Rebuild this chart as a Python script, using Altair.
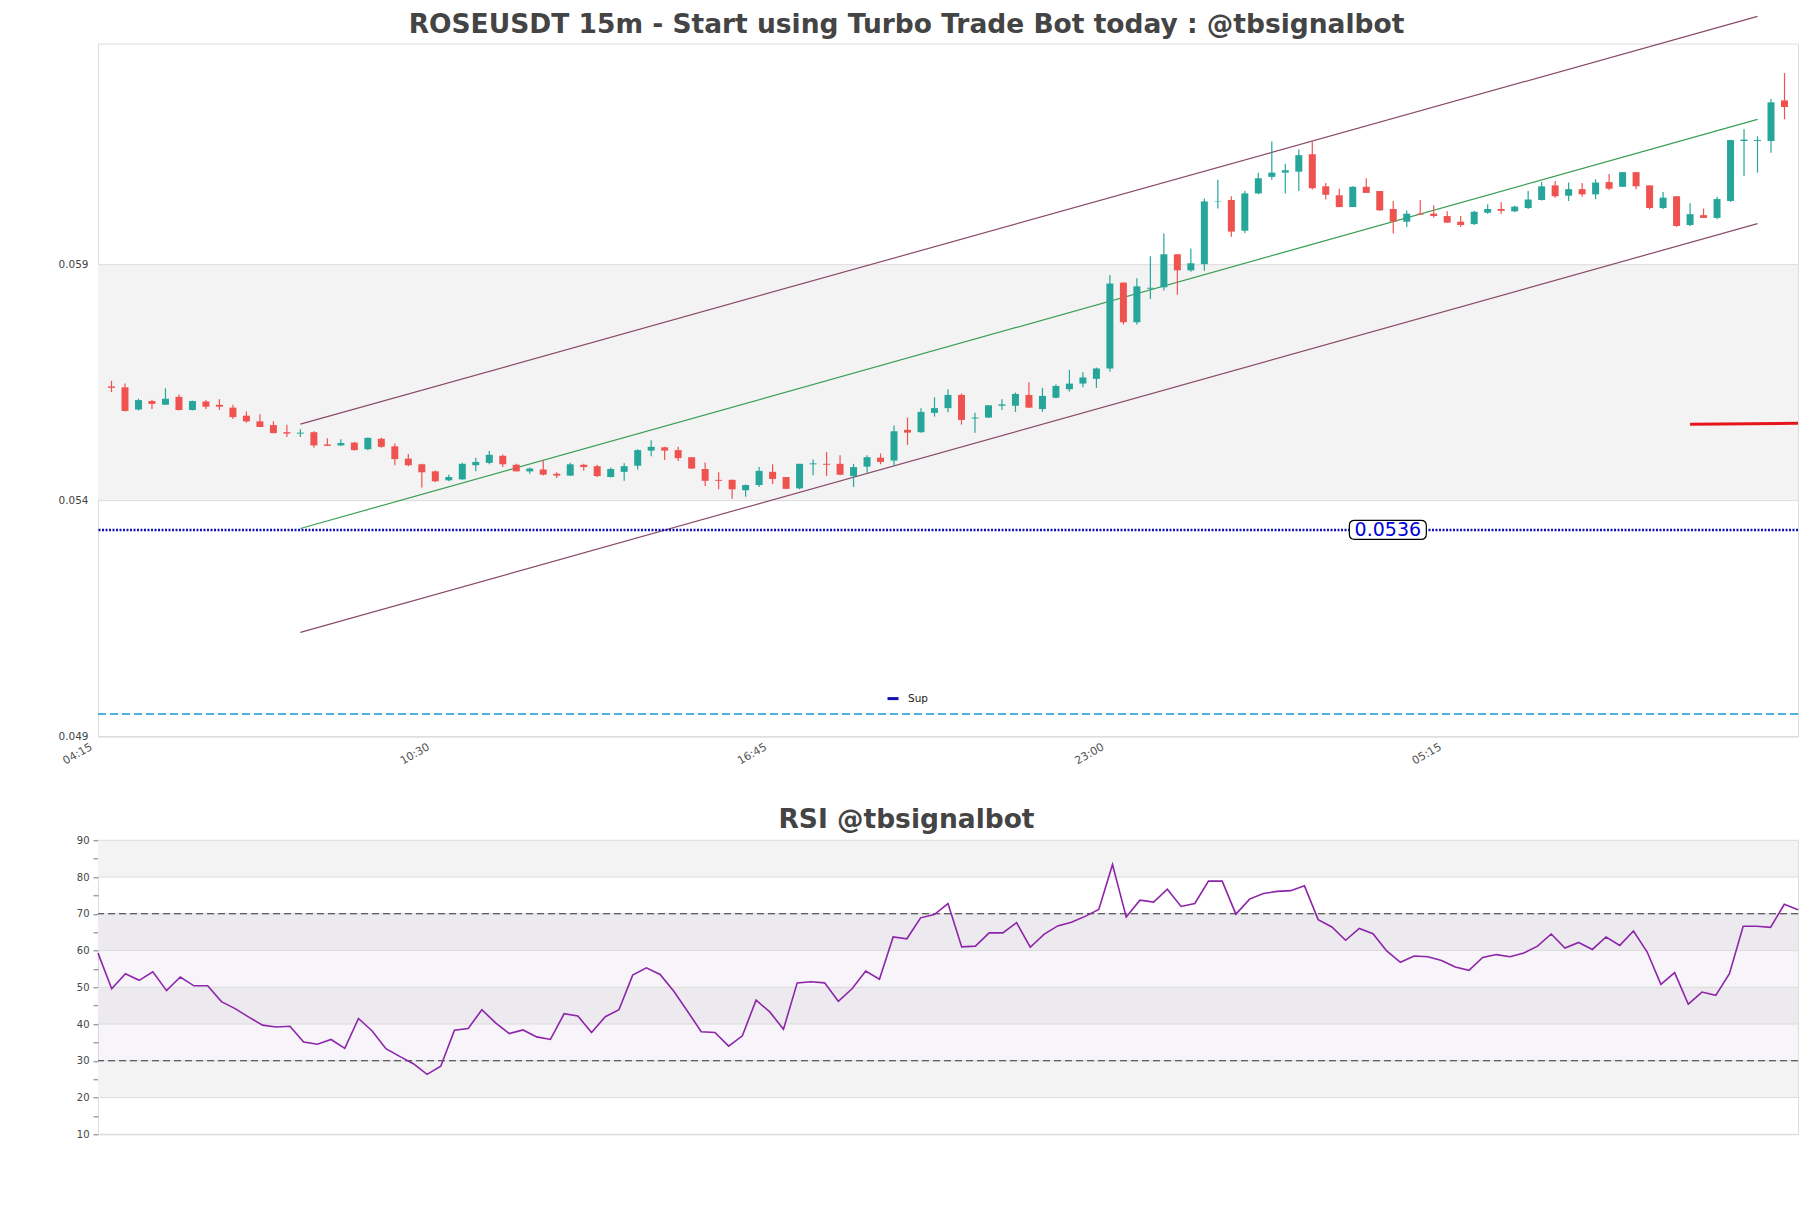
import altair as alt
import pandas as pd

FONT = "DejaVu Sans"

# ---------------- data ----------------
tick_index = [-1, 24, 49, 74, 99]
tick_labels = ["04:15", "10:30", "16:45", "23:00", "05:15"]

opens = [0.05642, 0.05640, 0.05593, 0.05611, 0.05603, 0.05620, 0.05592, 0.05610, 0.05603, 0.05597,
         0.05580, 0.05568, 0.05560, 0.05545, 0.05542, 0.05545, 0.05519, 0.05517, 0.05523, 0.05509,
         0.05531, 0.05515, 0.05489, 0.05477, 0.05462, 0.05443, 0.05445, 0.05475, 0.05480, 0.05495,
         0.05476, 0.05462, 0.05466, 0.05457, 0.05453, 0.05476, 0.05473, 0.05450, 0.05461, 0.05474,
         0.05506, 0.05513, 0.05507, 0.05492, 0.05467, 0.05444, 0.05444, 0.05422, 0.05433, 0.05461,
         0.05450, 0.05426, 0.05477, 0.05478, 0.05478, 0.05452, 0.05472, 0.05491, 0.05485, 0.05550,
         0.05545, 0.05586, 0.05596, 0.05624, 0.05574, 0.05576, 0.05601, 0.05601, 0.05624, 0.05594,
         0.05618, 0.05636, 0.05648, 0.05658, 0.05680, 0.05862, 0.05778, 0.05849, 0.05852, 0.05922,
         0.05888, 0.05901, 0.06033, 0.06037, 0.05972, 0.06051, 0.06086, 0.06095, 0.06097, 0.06134,
         0.06066, 0.06047, 0.06022, 0.06065, 0.06056, 0.06018, 0.05991, 0.06008, 0.06008, 0.06003,
         0.05991, 0.05986, 0.06010, 0.06018, 0.06013, 0.06020, 0.06037, 0.06068, 0.06046, 0.06060,
         0.06049, 0.06075, 0.06065, 0.06096, 0.06068, 0.06020, 0.06045, 0.05984, 0.06005, 0.05999,
         0.06035, 0.06162, 0.06162, 0.06162, 0.06248]
highs = [0.05654, 0.05648, 0.05616, 0.05614, 0.05638, 0.05625, 0.05612, 0.05613, 0.05615, 0.05603,
         0.05589, 0.05583, 0.05568, 0.05561, 0.05551, 0.05547, 0.05532, 0.05530, 0.05524, 0.05534,
         0.05533, 0.05521, 0.05499, 0.05478, 0.05464, 0.05455, 0.05480, 0.05491, 0.05505, 0.05498,
         0.05478, 0.05470, 0.05486, 0.05460, 0.05480, 0.05478, 0.05476, 0.05470, 0.05479, 0.05509,
         0.05528, 0.05514, 0.05514, 0.05492, 0.05481, 0.05460, 0.05445, 0.05434, 0.05471, 0.05477,
         0.05450, 0.05478, 0.05487, 0.05503, 0.05496, 0.05478, 0.05496, 0.05500, 0.05559, 0.05576,
         0.05596, 0.05619, 0.05636, 0.05627, 0.05586, 0.05602, 0.05615, 0.05629, 0.05651, 0.05639,
         0.05646, 0.05677, 0.05672, 0.05682, 0.05878, 0.05862, 0.05871, 0.05918, 0.05966, 0.05922,
         0.05934, 0.06040, 0.06080, 0.06045, 0.06056, 0.06095, 0.06161, 0.06114, 0.06144, 0.06161,
         0.06073, 0.06061, 0.06066, 0.06083, 0.06056, 0.06035, 0.06015, 0.06037, 0.06026, 0.06013,
         0.06003, 0.06014, 0.06028, 0.06032, 0.06025, 0.06056, 0.06075, 0.06077, 0.06074, 0.06073,
         0.06081, 0.06092, 0.06096, 0.06096, 0.06068, 0.06054, 0.06045, 0.06030, 0.06019, 0.06044,
         0.06165, 0.06187, 0.06172, 0.06251, 0.06306]
lows = [0.05630, 0.05589, 0.05591, 0.05594, 0.05603, 0.05591, 0.05591, 0.05594, 0.05592, 0.05573,
        0.05565, 0.05556, 0.05543, 0.05535, 0.05535, 0.05512, 0.05516, 0.05516, 0.05506, 0.05507,
        0.05512, 0.05475, 0.05473, 0.05428, 0.05439, 0.05441, 0.05444, 0.05462, 0.05477, 0.05471,
        0.05462, 0.05457, 0.05453, 0.05448, 0.05452, 0.05464, 0.05450, 0.05449, 0.05442, 0.05466,
        0.05494, 0.05486, 0.05484, 0.05467, 0.05431, 0.05424, 0.05404, 0.05408, 0.05429, 0.05435,
        0.05424, 0.05424, 0.05454, 0.05452, 0.05454, 0.05429, 0.05459, 0.05477, 0.05473, 0.05518,
        0.05544, 0.05578, 0.05587, 0.05561, 0.05544, 0.05575, 0.05592, 0.05588, 0.05597, 0.05588,
        0.05617, 0.05631, 0.05640, 0.05639, 0.05673, 0.05773, 0.05773, 0.05827, 0.05845, 0.05836,
        0.05885, 0.05887, 0.06019, 0.05959, 0.05967, 0.06049, 0.06080, 0.06051, 0.06056, 0.06059,
        0.06038, 0.06022, 0.06022, 0.06052, 0.06014, 0.05966, 0.05980, 0.06006, 0.06000, 0.05989,
        0.05980, 0.05984, 0.06008, 0.06008, 0.06011, 0.06018, 0.06036, 0.06042, 0.06035, 0.06044,
        0.06039, 0.06058, 0.06065, 0.06060, 0.06017, 0.06018, 0.05980, 0.05982, 0.05999, 0.05996,
        0.06033, 0.06088, 0.06095, 0.06137, 0.06208]
closes = [0.05639, 0.05590, 0.05613, 0.05605, 0.05616, 0.05592, 0.05611, 0.05599, 0.05599, 0.05577,
          0.05568, 0.05556, 0.05543, 0.05542, 0.05544, 0.05517, 0.05516, 0.05522, 0.05507, 0.05533,
          0.05514, 0.05488, 0.05475, 0.05460, 0.05441, 0.05450, 0.05478, 0.05482, 0.05497, 0.05477,
          0.05462, 0.05468, 0.05455, 0.05453, 0.05477, 0.05471, 0.05452, 0.05467, 0.05473, 0.05507,
          0.05514, 0.05506, 0.05490, 0.05468, 0.05442, 0.05442, 0.05424, 0.05433, 0.05463, 0.05446,
          0.05425, 0.05478, 0.05479, 0.05476, 0.05455, 0.05471, 0.05492, 0.05482, 0.05547, 0.05544,
          0.05588, 0.05596, 0.05624, 0.05571, 0.05576, 0.05602, 0.05604, 0.05626, 0.05597, 0.05622,
          0.05643, 0.05648, 0.05661, 0.05680, 0.05860, 0.05778, 0.05854, 0.05851, 0.05922, 0.05888,
          0.05903, 0.06034, 0.06034, 0.05970, 0.06051, 0.06083, 0.06095, 0.06100, 0.06132, 0.06062,
          0.06048, 0.06022, 0.06065, 0.06052, 0.06015, 0.05991, 0.06008, 0.06006, 0.06003, 0.05989,
          0.05984, 0.06012, 0.06018, 0.06014, 0.06023, 0.06038, 0.06066, 0.06045, 0.06060, 0.06049,
          0.06074, 0.06061, 0.06096, 0.06066, 0.06020, 0.06042, 0.05982, 0.06007, 0.05999, 0.06039,
          0.06164, 0.06165, 0.06164, 0.06244, 0.06234]

rsi_values = [59.3, 49.6, 53.7, 51.9, 54.2, 49.1, 52.8, 50.4, 50.4, 46.1,
              44.2, 41.9, 39.7, 39.2, 39.4, 35.1, 34.5, 35.8, 33.4, 41.5,
              38.1, 33.3, 31.2, 29.2, 26.3, 28.5, 38.3, 38.8, 43.9, 40.3,
              37.4, 38.4, 36.5, 35.8, 42.8, 42.2, 37.7, 42.0, 43.9, 53.3,
              55.3, 53.5, 48.9, 43.5, 37.9, 37.7, 34.0, 36.8, 46.5, 43.3,
              38.6, 51.2, 51.5, 51.2, 46.2, 49.6, 54.4, 52.2, 63.7, 63.2,
              68.9, 69.8, 72.8, 61.0, 61.2, 64.8, 64.8, 67.6, 60.9, 64.4,
              66.7, 67.7, 69.3, 71.2, 83.4, 69.1, 73.7, 73.2, 76.7, 72.0,
              72.8, 78.9, 78.9, 69.9, 74.0, 75.5, 76.1, 76.3, 77.6, 68.4,
              66.4, 62.8, 66.0, 64.6, 59.9, 56.8, 58.5, 58.3, 57.3, 55.5,
              54.6, 58.1, 58.9, 58.3, 59.3, 61.2, 64.5, 60.7, 62.2, 60.3,
              63.7, 61.4, 65.3, 59.6, 50.8, 54.0, 45.4, 48.7, 47.8, 53.7,
              66.6, 66.6, 66.3, 72.6, 71.1]

price_ticks = [0.049, 0.054, 0.059]
price_band = [0.054, 0.059]
price_top = 0.063684

channel_x = [14, 122]
channel_upper = [0.05562, 0.06426]
channel_mid = [0.05341, 0.06208]
channel_lower = [0.05121, 0.05987]

support_level = 0.05338
support_name = "Sup"
support_text = "0.0536"
support_text_index = 94.6

floor_level = 0.04948

red_x = [117, 125.0]
red_y = [0.05562, 0.05564]

rsi_ticks = [10, 15, 20, 25, 30, 35, 40, 45, 50, 55, 60, 65, 70, 75, 80, 85, 90]
rsi_grid = [10, 20, 30, 40, 50, 60, 70, 80, 90]
rsi_band_lo = [20, 40, 60, 80]
rsi_band_hi = [30, 50, 70, 90]
rsi_zone = [30, 70]
rsi_levels = [30, 70]

# ---------------- frames ----------------
n = len(opens)
candles = pd.DataFrame({
    "idx": list(range(n)),
    "open": opens,
    "high": [max(h, o, c) for h, o, c in zip(highs, opens, closes)],
    "low": [min(l, o, c) for l, o, c in zip(lows, opens, closes)],
    "close": closes,
})
rsi_df = pd.DataFrame({"k": list(range(len(rsi_values))), "rsi": rsi_values})

band_df = pd.DataFrame({"lo": [price_band[0]], "hi": [price_band[1]]})
grid_df = pd.DataFrame({"v": price_ticks})
edge_df = pd.DataFrame({
    "x": channel_x + channel_x,
    "y": channel_upper + channel_lower,
    "side": ["upper", "upper", "lower", "lower"],
})
mid_df = pd.DataFrame({"x": channel_x, "y": channel_mid})
sup_df = pd.DataFrame({"y": [support_level], "name": [support_name]})
floor_df = pd.DataFrame({"y": [floor_level]})
red_df = pd.DataFrame({"x": red_x, "y": red_y})
label_df = pd.DataFrame({"x": [support_text_index], "y": [support_level], "t": [support_text]})

rsi_band_df = pd.DataFrame({"lo": rsi_band_lo, "hi": rsi_band_hi})
rsi_zone_df = pd.DataFrame({"lo": [rsi_zone[0]], "hi": [rsi_zone[1]]})
rsi_grid_df = pd.DataFrame({"v": rsi_grid})
rsi_lvl_df = pd.DataFrame({"v": rsi_levels})

# ---------------- scales / axes ----------------
UP = "#26a69a"
DOWN = "#ef5350"
x_top = alt.Scale(domain=[tick_index[0], n], nice=False, zero=False, padding=0)
y_top = alt.Scale(domain=[price_ticks[0], price_top], nice=False, zero=False, padding=0)

label_expr = " : ".join(f"datum.value == {i} ? '{l}'" for i, l in zip(tick_index, tick_labels)) + " : ''"

x_axis = alt.Axis(values=tick_index, labelExpr=label_expr, labelAngle=-30, labelFontSize=11,
                  labelColor="#555555", labelFont=FONT, ticks=False, domain=False, grid=False,
                  title=None, labelPadding=4, labelOffset=-10)
y_axis = alt.Axis(values=price_ticks, format=".3f", labelFontSize=10.5, labelColor="#444444",
                  labelFont=FONT, ticks=False, domain=False, grid=False, title=None,
                  labelPadding=10, minExtent=89, maxExtent=89)


def X(field):
    return alt.X(field, scale=x_top, axis=x_axis)


def Y(field):
    return alt.Y(field, scale=y_top, axis=y_axis)


cond = alt.condition("datum.close >= datum.open", alt.value(UP), alt.value(DOWN))

band = alt.Chart(band_df).mark_rect(color="#f3f3f3").encode(y=Y("lo:Q"), y2="hi:Q")
grid = alt.Chart(grid_df).mark_rule(color="#dcdcdc", strokeWidth=1).encode(y=Y("v:Q"))
edges = alt.Chart(edge_df).mark_line(color="#8b4a6b", strokeWidth=1.2).encode(
    x=X("x:Q"), y=Y("y:Q"), detail="side:N")
mid = alt.Chart(mid_df).mark_line(color="#3a9f55", strokeWidth=1.2).encode(x=X("x:Q"), y=Y("y:Q"))
sup = alt.Chart(sup_df).mark_rule(strokeWidth=2.5, strokeDash=[2, 1.5]).encode(
    y=Y("y:Q"),
    color=alt.Color("name:N", scale=alt.Scale(domain=[support_name], range=["#1010b4"]),
                    legend=alt.Legend(orient="none", legendX=788, legendY=648, title=None,
                                      symbolType="stroke", symbolSize=121, symbolStrokeWidth=3,
                                      labelFont=FONT, labelFontSize=10.5, labelColor="#222222",
                                      labelOffset=8)))
floor = alt.Chart(floor_df).mark_rule(color="#1a96d8", strokeWidth=1.5, strokeDash=[8, 4]).encode(
    y=Y("y:Q"))
wicks = alt.Chart(candles).mark_rule(strokeWidth=1.2).encode(
    x=X("idx:Q"), y=Y("low:Q"), y2="high:Q", color=cond)
bodies = alt.Chart(candles).mark_bar(size=7).encode(
    x=X("idx:Q"), y=Y("open:Q"), y2="close:Q", color=cond)
red = alt.Chart(red_df).mark_line(color="#e8141c", strokeWidth=3, strokeJoin="round",
                                  strokeCap="butt").encode(x=X("x:Q"), y=Y("y:Q"))

box_path = ("M -0.86 -0.245 L 0.86 -0.245 Q 1 -0.245 1 -0.105 L 1 0.105 Q 1 0.245 0.86 0.245 "
            "L -0.86 0.245 Q -1 0.245 -1 0.105 L -1 -0.105 Q -1 -0.245 -0.86 -0.245 Z")
box = alt.Chart(label_df).mark_point(shape=box_path, size=5929, filled=True, fill="white",
                                     stroke="black", strokeWidth=1.2, opacity=1).encode(
    x=X("x:Q"), y=Y("y:Q"))
txt = alt.Chart(label_df).mark_text(font=FONT, fontSize=19, color="#0000dd",
                                    align="center", baseline="middle").encode(
    x=X("x:Q"), y=Y("y:Q"), text="t:N")

top = alt.layer(band, grid, edges, mid, sup, floor, wicks, bodies, red, box, txt).properties(
    width=1700, height=693,
    title=alt.Title("ROSEUSDT 15m - Start using Turbo Trade Bot today : @tbsignalbot",
                    font=FONT, fontSize=26.5, fontWeight="bold", color="#444444",
                    offset=-24.3, dx=-41.5))

# ---------------- RSI ----------------
x_rsi = alt.Scale(domain=[0, len(rsi_values) - 1], nice=False, zero=False, padding=0)
y_rsi = alt.Scale(domain=[rsi_grid[0], rsi_grid[-1]], nice=False, zero=False, padding=0)

rsi_axis = alt.Axis(values=rsi_ticks, labelExpr="datum.value % 10 == 0 ? datum.label : ''",
                    labelFontSize=10, labelColor="#444444", labelFont=FONT, ticks=True,
                    tickSize=5, tickColor="#777777", domain=False, grid=False, title=None,
                    labelPadding=4, minExtent=89, maxExtent=89)


def RY(field):
    return alt.Y(field, scale=y_rsi, axis=rsi_axis)


r_band = alt.Chart(rsi_band_df).mark_rect(color="#f3f3f3").encode(y=RY("lo:Q"), y2="hi:Q")
r_zone = alt.Chart(rsi_zone_df).mark_rect(color="#9d7fb8", opacity=0.08).encode(y=RY("lo:Q"), y2="hi:Q")
r_grid = alt.Chart(rsi_grid_df).mark_rule(color="#dcdcdc", strokeWidth=1).encode(y=RY("v:Q"))
r_lvl = alt.Chart(rsi_lvl_df).mark_rule(color="#333333", strokeWidth=1.1, strokeDash=[7, 4]).encode(
    y=RY("v:Q"))
r_line = alt.Chart(rsi_df).mark_line(color="#8e24aa", strokeWidth=1.6).encode(
    x=alt.X("k:Q", scale=x_rsi, axis=None), y=RY("rsi:Q"))

rsi = alt.layer(r_band, r_zone, r_grid, r_lvl, r_line).properties(
    width=1700, height=294,
    title=alt.Title("RSI @tbsignalbot", font=FONT, fontSize=26.5, fontWeight="bold",
                    color="#444444", offset=1.4, dx=-41.5))

chart = alt.vconcat(top, rsi, spacing=39.7).properties(
    padding={"left": 0, "top": 2.6, "right": 0, "bottom": 0}
).configure_view(stroke="#d9d9d9", strokeWidth=1).configure(background="white")

chart.save("out.html", embed_options={"renderer": "svg", "actions": False})
